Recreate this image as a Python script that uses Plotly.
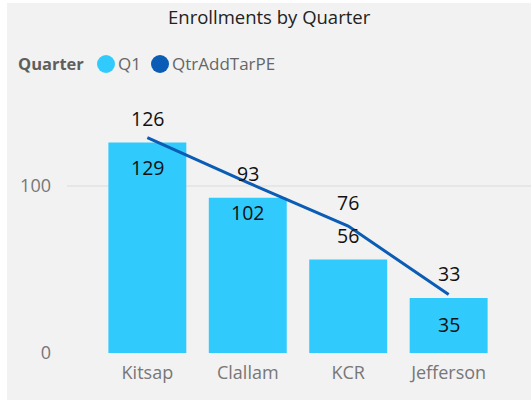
import plotly.graph_objects as go

# Enrollment counts by county
counties = ["Kitsap", "Clallam", "KCR", "Jefferson"]
q1_values = [126, 93, 56, 33]
qtr_add_tar_pe = [129, 102, 76, 35]
y_ticks = [0, 100]

BAR_COLOR = "#30CBFC"
LINE_COLOR = "#0B5CB5"
PANEL = "#F2F2F2"
FONT = "Segoe UI, Open Sans, Noto Sans, sans-serif"

# plot area in pixels: left 67, right 531, top 100, bottom 353
L, R, T, B = 67, 531, 100, 353
W, H = 531, 401


def px_x(p):
    return (p - L) / (R - L)


def px_y(p):
    return (B - p) / (B - T)


fig = go.Figure()
fig.add_trace(go.Bar(
    x=counties, y=q1_values, name="Q1",
    marker=dict(color=BAR_COLOR, line=dict(width=0)),
    showlegend=False, hoverinfo="x+y",
))
fig.add_trace(go.Scatter(
    x=counties, y=qtr_add_tar_pe, name="QtrAddTarPE", mode="lines",
    line=dict(color=LINE_COLOR, width=3),
    showlegend=False, hoverinfo="x+y",
))

annotations = []
# Q1 labels sit above the bars
for c, v in zip(counties, q1_values):
    annotations.append(dict(
        x=c, y=v, xref="x", yref="y", text=str(v), showarrow=False,
        yshift=24, yanchor="middle", font=dict(family=FONT, size=19.5, color="#111111"),
    ))
# line labels: below the line, except where it would collide
line_label_shift = [-30, -30, 24, -30]
for c, v, s in zip(counties, qtr_add_tar_pe, line_label_shift):
    annotations.append(dict(
        x=c, y=v, xref="x", yref="y", text=str(v), showarrow=False,
        yshift=s, yanchor="middle", font=dict(family=FONT, size=19.5, color="#111111"),
    ))

# title
annotations.append(dict(
    x=px_x(269), y=px_y(17), xref="paper", yref="paper",
    text="Enrollments by Quarter", showarrow=False, xanchor="center", yanchor="middle",
    font=dict(family=FONT, size=18.5, color="#222222"),
))
# legend
annotations.append(dict(
    x=px_x(16), y=px_y(64), xref="paper", yref="paper", text="<b>Quarter</b>",
    showarrow=False, xanchor="left", yanchor="middle",
    font=dict(family=FONT, size=16.5, color="#605E5C"),
))
legend_items = [("Q1", BAR_COLOR, 106, 116), ("QtrAddTarPE", LINE_COLOR, 160, 170)]
shapes = [dict(
    type="rect", xref="paper", yref="paper", layer="below",
    x0=px_x(7), x1=px_x(531), y0=px_y(400), y1=px_y(3),
    fillcolor=PANEL, line=dict(width=0),
)]
for name, col, cx, tx in legend_items:
    shapes.append(dict(
        type="circle", xref="paper", yref="paper", xsizemode="pixel", ysizemode="pixel",
        xanchor=px_x(cx), yanchor=px_y(64), x0=-9, x1=9, y0=-9, y1=9,
        fillcolor=col, line=dict(width=0),
    ))
    annotations.append(dict(
        x=px_x(tx), y=px_y(64), xref="paper", yref="paper", text=name,
        showarrow=False, xanchor="left", yanchor="middle",
        font=dict(family=FONT, size=17, color="#666666"),
    ))

fig.update_layout(
    width=W, height=H,
    margin=dict(l=L, r=W - R, t=T, b=H - B, pad=0),
    paper_bgcolor="white", plot_bgcolor=PANEL,
    bargap=0.224,
    showlegend=False,
    annotations=annotations, shapes=shapes,
    xaxis=dict(
        range=[-0.8, 3.82], showgrid=False, zeroline=False, showline=False,
        ticks="", tickfont=dict(family=FONT, size=18, color="#777777"),
        ticklabelstandoff=7, fixedrange=True,
    ),
    yaxis=dict(
        range=[0, 151.5], tickvals=y_ticks, showgrid=True, gridcolor="#E6E6E6",
        gridwidth=2, zeroline=False, showline=False, ticks="",
        tickfont=dict(family=FONT, size=18, color="#777777"),
        ticklabelstandoff=15, fixedrange=True,
    ),
)

fig.write_html("out.html", config={"displayModeBar": False})
